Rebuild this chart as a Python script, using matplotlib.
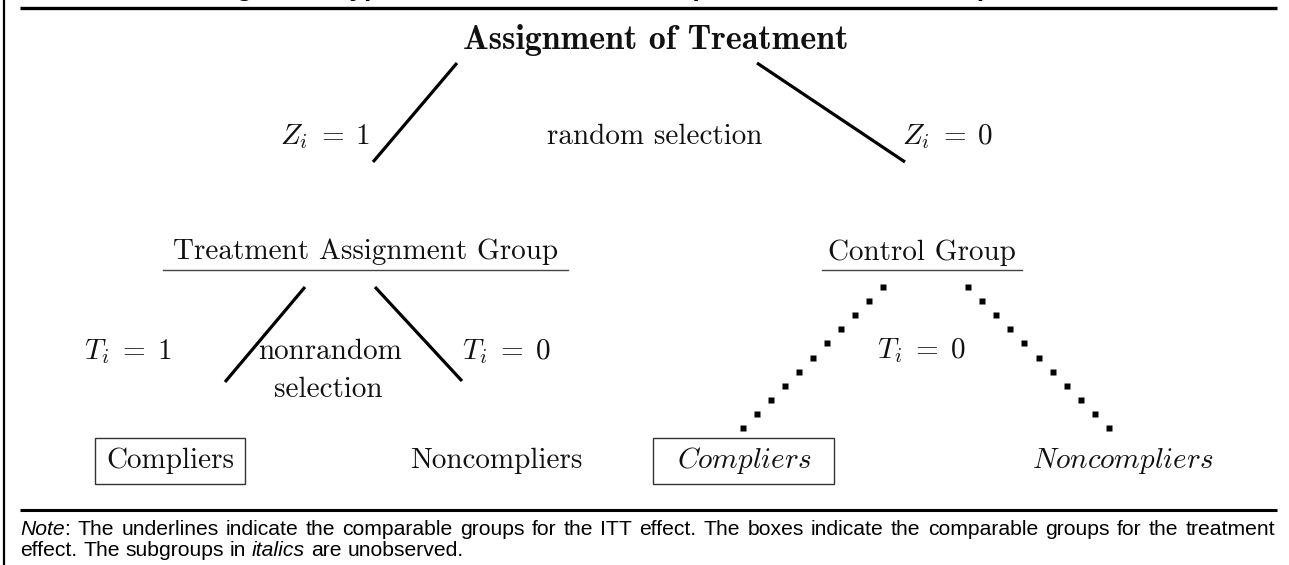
import numpy as np
import matplotlib.pyplot as plt
from matplotlib.patches import Rectangle

plt.rcParams['mathtext.fontset'] = 'cm'

# ---- diagram content ----
title_text = 'Figure 1. Hypothetical Randomized Experiment with Noncompliance'
root_label = 'Assignment of Treatment'
group_labels = ['Treatment Assignment Group', 'Control Group']
assign_labels = [r'$Z_i\;=\;1$', r'$Z_i\;=\;0$']
select_labels = ['random selection', 'nonrandom', 'selection']
take_labels = [r'$T_i\;=\;1$', r'$T_i\;=\;0$', r'$T_i\;=\;0$']
leaf_labels = ['Compliers', 'Noncompliers', 'Compliers', 'Noncompliers']
leaf_italic = [False, False, True, True]
leaf_boxed = [True, False, True, False]
note_line1 = [('Note', 'italic'),
              (': The underlines indicate the comparable groups for the ITT effect. '
               'The boxes indicate the comparable groups for the treatment', 'normal')]
note_line2 = [('effect. The subgroups in ', 'normal'), ('italics', 'italic'),
              (' are unobserved.', 'normal')]

# ---- layout (pixels, origin top-left) ----
W, H = 1289, 565
root_pos = (656, 40)
group_pos = [(366, 252), (922, 253)]
underline_span = [(163, 568), (822, 1022)]
underline_y = 270
leaf_pos = [(170, 461), (496, 461), (744, 461), (1123, 461)]
boxes = [(95, 438, 150, 46), (653, 438, 181, 46)]
assign_pos = [(325, 137), (948, 137)]
select_pos = [(655, 137), (330, 352), (328, 390)]
take_pos = [(128, 352), (506, 352), (921, 351)]
solid_edges = [((457, 63), (373, 162)), ((757, 63), (905, 162)),
               ((305, 287), (225, 382)), ((375, 287), (462, 381))]
dotted_edges = [((883, 287), (743, 428)), ((968, 287), (1109, 428))]
n_dots = 11

fig = plt.figure(figsize=(W / 100, H / 100), dpi=100)
ax = fig.add_axes([0, 0, 1, 1])
ax.set_xlim(0, W)
ax.set_ylim(H, 0)
ax.axis('off')

# frame rules
ax.plot([3.5, 3.5], [0, H], color='black', lw=1.6, solid_capstyle='butt')
ax.plot([20, 1277], [8, 8], color='black', lw=2.4, solid_capstyle='butt')
ax.plot([20, 1277], [510, 510], color='black', lw=2.2, solid_capstyle='butt')

# figure heading, cut off by the top edge (only descenders show)
ax.text(640, -4, title_text, ha='center', va='baseline', fontsize=19,
        fontweight='bold', family='Liberation Sans', clip_on=False)

cm_txt = dict(family='cmr10', fontsize=21, color='#111111')

ax.text(*root_pos, root_label, ha='center', va='center', family='cmb10',
        fontsize=24.5, color='#111111')

for (x, y), lab in zip(group_pos, group_labels):
    ax.text(x, y, lab, ha='center', va='center', **cm_txt)
for (x0, x1) in underline_span:
    ax.plot([x0, x1], [underline_y, underline_y], color='#444444', lw=1.0)

for (x, y), lab in zip(assign_pos, assign_labels):
    ax.text(x, y, lab, ha='center', va='center', fontsize=21, color='#111111')
for (x, y), lab in zip(take_pos, take_labels):
    ax.text(x, y, lab, ha='center', va='center', fontsize=21, color='#111111')
for (x, y), lab in zip(select_pos, select_labels):
    ax.text(x, y, lab, ha='center', va='center', **cm_txt)

for (x, y), lab, it in zip(leaf_pos, leaf_labels, leaf_italic):
    if it:
        ax.text(x, y, r'$\mathit{' + lab + '}$', ha='center', va='center',
                fontsize=21, color='#111111')
    else:
        ax.text(x, y, lab, ha='center', va='center', **cm_txt)
for (bx, by, bw, bh) in boxes:
    ax.add_patch(Rectangle((bx, by), bw, bh, fill=False, ec='#333333', lw=1.0))

for (p0, p1) in solid_edges:
    ax.plot([p0[0], p1[0]], [p0[1], p1[1]], color='black', lw=2.3,
            solid_capstyle='butt')
for (p0, p1) in dotted_edges:
    xs = np.linspace(p0[0], p1[0], n_dots)
    ys = np.linspace(p0[1], p1[1], n_dots)
    ax.plot(xs, ys, 's', ms=5, color='black', mec='none')

# note below the rule
renderer = fig.canvas.get_renderer()
note_fs = 15.2


def chain_text(x, y, parts, right=None):
    # split into words so the line can be justified to the right margin
    words = []
    for txt, style in parts:
        for i, w in enumerate(txt.split(' ')):
            if i > 0:
                words.append((None, style))
            if w:
                words.append((w, style))
    arts = []
    for w, style in words:
        if w is None:
            arts.append(None)
            continue
        t = ax.text(0, y, w, ha='left', va='baseline', fontsize=note_fs,
                    family='Liberation Sans', style=style)
        arts.append(t)
    space = ax.text(0, 0, 'a a', fontsize=note_fs, family='Liberation Sans')
    aa = ax.text(0, 0, 'aa', fontsize=note_fs, family='Liberation Sans')
    sp = space.get_window_extent(renderer).width - aa.get_window_extent(renderer).width
    space.remove()
    aa.remove()
    widths = [a.get_window_extent(renderer).width if a is not None else 0 for a in arts]
    n_sp = sum(1 for a in arts if a is None)
    if right is not None and n_sp:
        sp = (right - x - sum(widths)) / n_sp
    for a, w in zip(arts, widths):
        if a is None:
            x += sp
        else:
            a.set_x(x)
            x += w


chain_text(20, 535, note_line1, right=1275)
chain_text(20, 556, note_line2)

fig.savefig('out.png', dpi=100)
